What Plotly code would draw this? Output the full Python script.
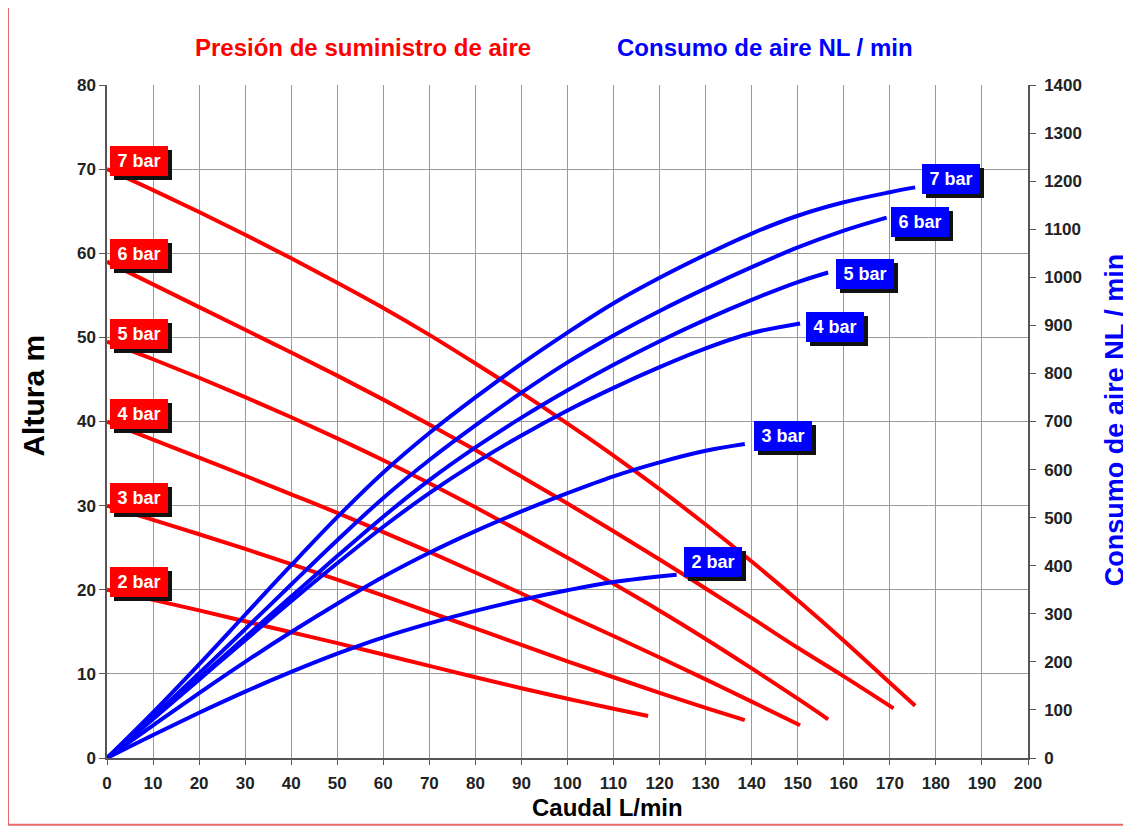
import plotly.graph_objects as go

# ---------------- data ----------------
bar_labels = ["2 bar", "3 bar", "4 bar", "5 bar", "6 bar", "7 bar"]

# Altura (m) vs Caudal (L/min)  -- red curves, left axis
alt_x_2 = [0, 10, 20, 30, 40, 50, 60, 70, 80, 90, 100, 110, 117.5]
alt_y_2 = [20, 18.8, 17.55, 16.25, 14.95, 13.65, 12.3, 10.95, 9.6, 8.3, 7.05, 5.85, 5.0]
alt_x_3 = [0, 10, 20, 30, 40, 50, 60, 70, 80, 90, 100, 110, 120, 130, 138.5]
alt_y_3 = [30, 28.3, 26.6, 24.85, 23.05, 21.2, 19.3, 17.35, 15.4, 13.45, 11.5, 9.6, 7.75, 5.95, 4.5]
alt_x_4 = [0, 10, 20, 30, 40, 50, 60, 70, 80, 90, 100, 110, 120, 130, 140, 150.5]
alt_y_4 = [40, 37.85, 35.7, 33.55, 31.35, 29.15, 26.85, 24.5, 22.05, 19.55, 17.0, 14.5, 11.95, 9.35, 6.7, 3.9]
alt_x_5 = [0, 10, 20, 30, 40, 50, 60, 70, 80, 90, 100, 110, 120, 130, 140, 150, 156.6]
alt_y_5 = [49.5, 47.4, 45.2, 42.9, 40.5, 38.0, 35.4, 32.65, 29.8, 26.85, 23.8, 20.7, 17.5, 14.15, 10.65, 7.05, 4.6]
alt_x_6 = [0, 10, 20, 30, 40, 50, 60, 70, 80, 90, 100, 110, 120, 130, 140, 150, 160, 170.8]
alt_y_6 = [59, 56.3, 53.6, 50.9, 48.2, 45.45, 42.6, 39.65, 36.6, 33.45, 30.25, 26.95, 23.6, 20.15, 16.65, 13.1, 9.7, 5.9]
alt_x_7 = [0, 10, 20, 30, 40, 50, 60, 70, 80, 90, 100, 110, 120, 130, 140, 150, 160, 170, 175.5]
alt_y_7 = [70, 67.5, 64.9, 62.2, 59.4, 56.5, 53.5, 50.3, 46.9, 43.4, 39.75, 35.95, 31.95, 27.75, 23.35, 18.75, 13.95, 8.95, 6.2]

# Consumo de aire (NL/min) vs Caudal (L/min)  -- blue curves, right axis
air_x_2 = [0, 10, 20, 30, 40, 50, 60, 70, 80, 90, 100, 110, 123.7]
air_y_2 = [0, 48, 94, 138, 179, 217, 251, 280, 306, 329, 349, 366, 381]
air_x_3 = [0, 10, 20, 30, 40, 50, 60, 70, 80, 90, 100, 110, 120, 130, 138.5]
air_y_3 = [0, 68, 135, 200, 262, 321, 377, 427, 472, 513, 551, 586, 615, 639, 653]
air_x_4 = [0, 10, 20, 30, 40, 50, 60, 70, 80, 90, 100, 110, 120, 130, 140, 150.5]
air_y_4 = [0, 81, 163, 245, 326, 405, 481, 551, 614, 671, 723, 770, 813, 852, 884, 904]
air_x_5 = [0, 10, 20, 30, 40, 50, 60, 70, 80, 90, 100, 110, 120, 130, 140, 150, 156.6]
air_y_5 = [0, 82, 166, 251, 336, 420, 502, 578, 646, 708, 765, 818, 867, 912, 953, 990, 1010]
air_x_6 = [0, 10, 20, 30, 40, 50, 60, 70, 80, 90, 100, 110, 120, 130, 140, 150, 160, 169.3]
air_y_6 = [0, 86, 176, 268, 361, 453, 541, 620, 692, 760, 823, 879, 930, 977, 1021, 1062, 1097, 1124]
air_x_7 = [0, 10, 20, 30, 40, 50, 60, 70, 80, 90, 100, 110, 120, 130, 140, 150, 160, 170, 175.5]
air_y_7 = [0, 95, 195, 298, 401, 501, 594, 676, 750, 820, 885, 946, 999, 1047, 1091, 1128, 1156, 1177, 1187]

x_ticks = list(range(0, 201, 10))
alt_ticks = list(range(0, 81, 10))
air_ticks = list(range(0, 1401, 100))

alt_series = [(alt_x_2, alt_y_2), (alt_x_3, alt_y_3), (alt_x_4, alt_y_4),
              (alt_x_5, alt_y_5), (alt_x_6, alt_y_6), (alt_x_7, alt_y_7)]
air_series = [(air_x_2, air_y_2), (air_x_3, air_y_3), (air_x_4, air_y_4),
              (air_x_5, air_y_5), (air_x_6, air_y_6), (air_x_7, air_y_7)]

# label offsets (pixels) for the blue end labels
air_label_yshift = [13, 8, -4, -2, -4, 8]
air_label_xshift = [7, 9, 6, 8, 4, 7]

RED = "#ff0000"
BLUE = "#0000ff"
FONT = "Liberation Sans, Arial, sans-serif"

fig = go.Figure()

for (xs, ys) in alt_series:
    fig.add_trace(go.Scatter(x=xs, y=ys, mode="lines", yaxis="y",
                             line=dict(color=RED, width=4, shape="spline", smoothing=1.0),
                             showlegend=False, hoverinfo="skip"))
for (xs, ys) in air_series:
    fig.add_trace(go.Scatter(x=xs, y=ys, mode="lines", yaxis="y2",
                             line=dict(color=BLUE, width=4, shape="spline", smoothing=1.0),
                             showlegend=False, hoverinfo="skip"))

annotations = []

def boxed(x, y, yref, text, bg, xshift, yshift):
    common = dict(x=x, y=y, xref="x", yref=yref, showarrow=False,
                  xanchor="left", yanchor="middle", width=52, height=24,
                  borderpad=2, borderwidth=1, align="center")
    # shadow box (no text)
    annotations.append(dict(common, text="&nbsp;", xshift=xshift + 4, yshift=yshift - 4,
                            bgcolor="#111111", bordercolor="#111111",
                            font=dict(family=FONT, size=18, color="#111111")))
    annotations.append(dict(common, text=text, xshift=xshift, yshift=yshift,
                            bgcolor=bg, bordercolor=bg,
                            font=dict(family=FONT, size=18, color="white")))

for lab, (xs, ys) in zip(bar_labels, alt_series):
    boxed(xs[0], ys[0], "y", "<b>%s</b>" % lab, RED, 3, 8)
for lab, (xs, ys), dy, dx in zip(bar_labels, air_series, air_label_yshift, air_label_xshift):
    boxed(xs[-1], ys[-1], "y2", "<b>%s</b>" % lab, BLUE, dx, dy)

# titles
annotations.append(dict(x=0.278, y=1.055, xref="paper", yref="paper", showarrow=False,
                        xanchor="center", yanchor="middle",
                        text="<b>Presión de suministro de aire</b>",
                        font=dict(family=FONT, size=24, color=RED)))
annotations.append(dict(x=0.714, y=1.055, xref="paper", yref="paper", showarrow=False,
                        xanchor="center", yanchor="middle",
                        text="<b>Consumo de aire NL / min</b>",
                        font=dict(family=FONT, size=24, color=BLUE)))
annotations.append(dict(x=-0.080, y=0.539, xref="paper", yref="paper", showarrow=False,
                        xanchor="center", yanchor="middle",
                        text="<b>Altura m</b>", textangle=-90,
                        font=dict(family=FONT, size=30, color="black")))
annotations.append(dict(x=0.543, y=-0.074, xref="paper", yref="paper", showarrow=False,
                        xanchor="center", yanchor="middle",
                        text="<b>Caudal L/min</b>",
                        font=dict(family=FONT, size=24, color="black")))
annotations.append(dict(x=1.0945, y=0.502, xref="paper", yref="paper", showarrow=False,
                        xanchor="center", yanchor="middle",
                        text="<b>Consumo de aire NL / min</b>", textangle=-90,
                        font=dict(family=FONT, size=27, color=BLUE)))

tickfont = dict(family=FONT, size=17, color="#222222")

fig.update_layout(
    width=1123, height=819,
    margin=dict(l=99, r=103, t=77, b=69),
    paper_bgcolor="white", plot_bgcolor="white",
    xaxis=dict(range=[0, 200], tickvals=x_ticks, ticktext=["<b>%d</b>" % v for v in x_ticks],
               showgrid=True, gridcolor="#9a9a9a", gridwidth=1,
               showline=True, linecolor="#555555", linewidth=1.5,
               ticks="outside", ticklen=5, tickcolor="#555555",
               ticklabelstandoff=4,
               tickfont=tickfont, zeroline=False, mirror=False),
    yaxis=dict(range=[0, 80], tickvals=alt_ticks, ticktext=["<b>%d</b>" % v for v in alt_ticks],
               showgrid=True, gridcolor="#9a9a9a", gridwidth=1,
               showline=True, linecolor="#555555", linewidth=1.5,
               ticks="outside", ticklen=6, tickcolor="#555555",
               tickfont=tickfont, zeroline=False),
    yaxis2=dict(range=[0, 1400], tickvals=air_ticks, ticktext=["<b>%d</b>" % v for v in air_ticks],
                overlaying="y", side="right", showgrid=False,
                showline=True, linecolor="#555555", linewidth=1.5,
                ticks="outside", ticklen=6, tickcolor="#555555",
                ticklabelstandoff=5,
                tickfont=tickfont, zeroline=False),
    annotations=annotations,
    shapes=[dict(type="rect", xref="paper", yref="paper",
                 x0=-0.1075, x1=1.2, y0=-0.099, y1=1.116,
                 line=dict(color="#e86a6a", width=2), fillcolor="rgba(0,0,0,0)",
                 layer="below")],
)

fig.write_html("out.html")
